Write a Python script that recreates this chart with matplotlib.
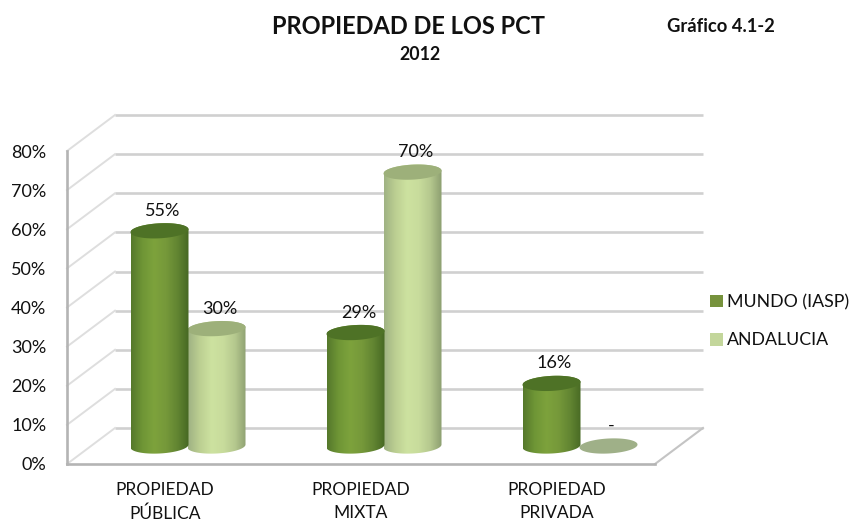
import numpy as np
import matplotlib
matplotlib.use("Agg")
import matplotlib.pyplot as plt
from matplotlib.patches import Polygon, Patch
from matplotlib.colors import LinearSegmentedColormap

plt.rcParams['font.family'] = ['Lato', 'DejaVu Sans']

categories = ["PROPIEDAD\nPÚBLICA", "PROPIEDAD\nMIXTA", "PROPIEDAD\nPRIVADA"]
mundo = [55, 29, 16]
andalucia = [30, 70, 0]
mundo_labels = ["55%", "29%", "16%"]
andalucia_labels = ["30%", "70%", "-"]
yticks = list(range(0, 90, 10))
yticklabels = [f"{v}%" for v in yticks]

W, H = 851, 522
fig = plt.figure(figsize=(W / 100, H / 100), dpi=100)
L, R, B, T = 67, 655, 464, 151
ax = fig.add_axes([L / W, 1 - B / H, (R - L) / W, (B - T) / H])
ax.patch.set_visible(False)
PX = 3 / (R - L)       # data x per pixel
PY = 80 / (B - T)      # data y per pixel
DX, DY = 48 * PX, 36 * PY

GRID = "#d0d0d0"
for v in yticks:
    ax.plot([DX, 3 + DX], [v + DY, v + DY], color=GRID, lw=1.9, zorder=1, clip_on=False, solid_capstyle="butt")
    ax.plot([0, DX], [v, v + DY], color="#dedede", lw=1.4, zorder=1, clip_on=False)
ax.plot([3, 3 + DX], [0, DY], color="#c4c4c4", lw=1.5, zorder=1, clip_on=False)

green = LinearSegmentedColormap.from_list("g", ["#55782b", "#6f9636", "#7da23c", "#76993a", "#628532", "#466823"])
light = LinearSegmentedColormap.from_list("l", ["#9fb283", "#bccf92", "#cde2a0", "#c8dc9c", "#b5c88e", "#8c9e70"])
CAP_G, CAP_L = "#4e7226", "#9db07a"


def cyl(xc, val, cmap, cap, z):
    a, b, tilt = 29 * PX, 7.5 * PY, 0.05
    y0 = DY / 2
    t = np.linspace(0, 2 * np.pi, 120)
    ex = a * np.cos(t)
    ey = b * np.sin(t) + tilt * 29 * PY * np.cos(t)
    if val > 0:
        low = (t >= np.pi)
        up = (t <= np.pi)
        body = np.vstack([
            np.c_[xc + ex[low], y0 + ey[low]],
            np.c_[xc + ex[up], y0 + val + ey[up]],
        ])
        poly = Polygon(body, closed=True, fc="none", ec="none", transform=ax.transData)
        ax.add_patch(poly)
        grad = np.linspace(0, 1, 256).reshape(1, -1)
        im = ax.imshow(grad, cmap=cmap, extent=[xc - a, xc + a, y0 - b * 2, y0 + val + b * 2],
                       aspect="auto", zorder=z, interpolation="bilinear")
        im.set_clip_path(poly)
    ax.add_patch(Polygon(np.c_[xc + ex, y0 + val + ey], closed=True, fc=cap, ec="none", zorder=z + 0.1, clip_on=False))


def label(xc, val, s):
    ax.annotate(s, (xc, DY / 2 + val), xytext=(3 * 0.72, 20 * 0.72), textcoords="offset points",
                ha="center", va="center", fontsize=13, color="#111111", zorder=9, annotation_clip=False)


x = np.arange(3) + 0.5 + 23 * PX
off = 28.5 * PX
for i in range(3):
    cyl(x[i] + off, andalucia[i], light, CAP_L if andalucia[i] else "#9fb088", 3 + i)
    cyl(x[i] - off, mundo[i], green, CAP_G, 4 + i)
    label(x[i] + off, andalucia[i], andalucia_labels[i])
    label(x[i] - off, mundo[i], mundo_labels[i])

ax.set_xlim(0, 3)
ax.set_ylim(0, 80)
ax.set_xticks(np.arange(3) + 0.5, categories)
ax.set_yticks(yticks, yticklabels)
ax.tick_params(axis="both", length=0, labelsize=13, labelcolor="#111111")
ax.tick_params(axis="x", pad=13)
ax.tick_params(axis="y", pad=15)
for lab in ax.get_xticklabels():
    lab.set_linespacing(1.55)
    lab.set_fontsize(12.5)
for s in ("top", "right"):
    ax.spines[s].set_visible(False)
for s in ("left", "bottom"):
    ax.spines[s].set_color("#b4b4b4")
    ax.spines[s].set_linewidth(1.9)

fig.text(408.5 / W, 1 - 26 / H, "PROPIEDAD DE LOS PCT", ha="center", va="center", fontsize=17, fontweight="bold", color="#111111")
fig.text(419.5 / W, 1 - 55 / H, "2012", ha="center", va="center", fontsize=12.8, fontweight="bold", color="#111111")
fig.text(720.5 / W, 1 - 27 / H, "Gráfico 4.1-2", ha="center", va="center", fontsize=13.2, fontweight="bold", color="#111111")

handles = [Patch(fc="#76923c", ec="none", label="MUNDO (IASP)"), Patch(fc="#c3d69b", ec="none", label="ANDALUCIA")]
fig.legend(handles=handles, loc="upper left", bbox_to_anchor=(703 / W, 1 - 287 / H), frameon=False,
           fontsize=12.8, handlelength=0.73, handleheight=0.73, handletextpad=0.2, labelspacing=1.25,
           borderpad=0, borderaxespad=0.4, labelcolor="#111111")

fig.savefig("out.png", dpi=100, facecolor="white")
